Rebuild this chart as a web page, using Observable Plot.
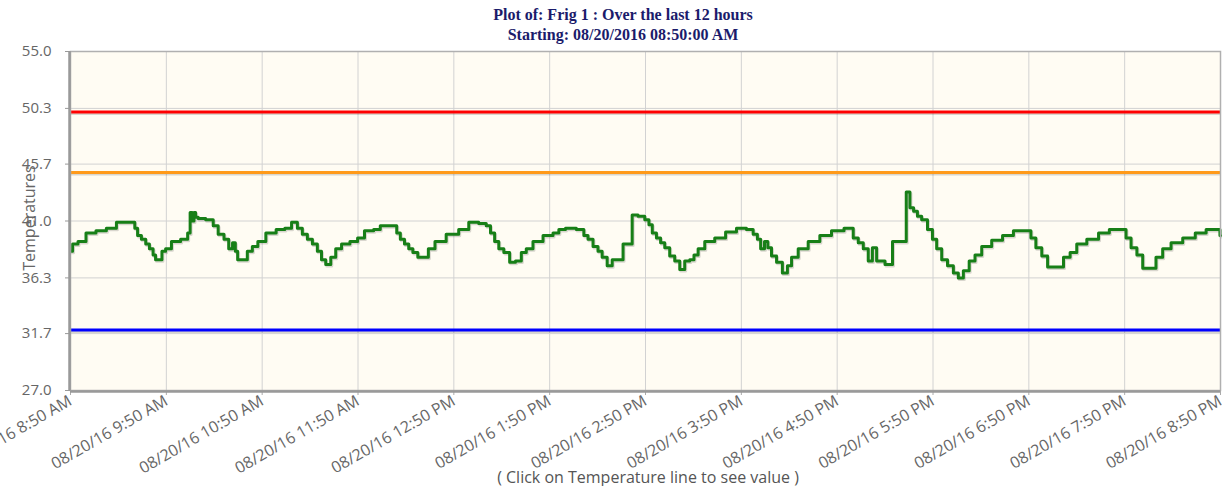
<!DOCTYPE html>
<html><head><meta charset="utf-8">
<script src="https://cdn.jsdelivr.net/npm/d3@7"></script>
<script src="https://cdn.jsdelivr.net/npm/@observablehq/plot@0.6"></script>
<style>
html,body{margin:0;padding:0;background:#fff;overflow:hidden;width:1222px;height:486px}
#wrap{position:relative;width:1222px;height:486px;overflow:hidden}
#title{position:absolute;left:0;top:5px;width:1246px;text-align:center;font:bold 16px "Liberation Serif","Times New Roman",serif;color:#1b1b6b;line-height:20px}
#ylab{position:absolute;left:29px;top:218px;transform:translate(-50%,-50%) rotate(-90deg);font:16px "Open Sans",sans-serif;color:#666;white-space:nowrap}
#cap{position:absolute;left:648px;top:466px;transform:translateX(-50%);font:16px "Open Sans",sans-serif;color:#555;white-space:nowrap;line-height:22px}
#chart{position:absolute;left:0;top:0}
</style></head>
<body><div id="wrap">
<div id="chart"></div>
<div id="title">Plot of: Frig 1 : Over the last 12 hours<br>Starting: 08/20/2016 08:50:00 AM</div>
<div id="ylab">Temperatures</div>
<div id="cap">( Click on Temperature line to see value )</div>
</div>
<script>
// minutes since 08/20/16 8:50 AM
const times = [0,2.6,6.8,12.6,19.3,25.6,31.9,39.2,41.3,42.7,46.1,48.1,50.7,52.7,53.8,56.5,58.0,61.1,65.3,72.6,74.1,75.7,76.8,77.8,78.9,81.0,88.3,90.4,94.5,97.7,100.4,102.5,103.9,105.4,109.1,112.3,115.4,119.2,125.4,132.1,136.3,140.5,143.6,146.7,149.9,153.0,156.1,158.2,161.4,164.5,167.6,171.8,178.1,
181.4,186.7,192.9,195.0,203.0,205.5,207.5,210.7,212.8,215.9,219.0,222.2,225.9,230.5,239.9,246.2,252.5,258.7,261.9,264.0,267.1,269.2,273.4,276.5,280.7,283.8,286.9,292.2,299.5,304.7,306.8,313.0,320.4,322.4,325.6,328.7,331.8,333.9,338.1,340.2,345.4,346.5,350.6,352.7,358.0,
361.1,363.2,365.3,368.4,370.5,373.6,376.7,379.9,383.0,386.1,389.3,391.4,394.5,399.7,407.0,413.3,420.6,425.8,429.0,431.1,433.1,435.9,437.3,440.5,443.6,447.8,449.9,453.0,458.2,465.5,472.8,480.1,488.5,491.6,494.8,497.9,501.0,503.1,506.3,513.6,515.7,521.9,524.6,526.5,529.2,531.3,534.5,
538.6,540.7,543.9,547.0,551.2,554.3,557.4,560.6,564.7,567.9,573.1,580.4,586.7,594.0,600.3,602.3,606.5,609.7,613.8,619.1,624.3,627.4,632.6,640.0,647.3,653.5,659.8,661.9,666.1,669.2,673.4,677.5,681.7,685.9,692.2,700.5,707.9,714.1,719.3,720];
const temps = [38.5,39.1,39.3,40.0,40.2,40.4,40.9,40.9,40.4,39.8,39.5,39.1,38.7,38.2,37.8,37.8,38.5,38.7,39.3,39.5,40.0,41.7,41.0,41.7,41.3,41.2,41.1,40.6,39.9,39.5,38.7,39.2,38.5,37.8,37.8,38.5,38.9,39.3,40.0,40.3,40.4,40.9,40.4,39.9,39.5,39.1,38.5,37.8,37.4,38.0,38.7,39.1,39.3,
39.6,40.2,40.3,40.6,40.6,40.0,39.5,39.1,38.7,38.4,38.0,38.0,38.7,39.3,39.9,40.3,40.9,40.8,40.6,40.0,39.3,38.7,38.4,37.6,37.7,38.4,38.7,39.3,39.8,40.0,40.3,40.4,40.3,39.8,39.5,38.9,38.5,38.0,37.3,37.8,37.8,39.1,39.1,41.5,41.4,
41.1,40.7,40.0,39.6,39.2,38.8,38.1,37.7,37.0,37.7,37.8,38.2,38.7,39.3,39.6,40.1,40.4,40.3,39.9,39.5,38.7,39.3,38.8,38.1,37.6,36.7,37.3,38.0,38.7,39.3,39.8,40.2,40.4,39.6,39.2,38.7,37.7,38.8,37.7,37.4,39.3,39.3,43.4,42.1,41.8,41.4,41.1,
40.3,39.5,38.7,37.8,37.3,36.7,36.3,36.9,37.7,38.2,38.9,39.4,39.8,40.2,40.2,39.6,38.8,38.1,37.2,37.2,38.0,38.4,39.1,39.5,40.0,40.3,40.3,39.6,38.8,38.2,37.1,37.1,38.0,38.7,39.2,39.6,40.0,40.3,40.3,39.8];

const thresholds = [50, 45, 32];
const thresholdColors = ["#ff0000", "#ff9a1a", "#0000ff"];

const yTicks = [27.0, 31.7, 36.3, 41.0, 45.7, 50.3, 55.0];
const xTickMinutes = [0,60,120,180,240,300,360,420,480,540,600,660,720];
const xTickLabels = ["08/20/16 8:50 AM","08/20/16 9:50 AM","08/20/16 10:50 AM","08/20/16 11:50 AM","08/20/16 12:50 PM","08/20/16 1:50 PM","08/20/16 2:50 PM","08/20/16 3:50 PM","08/20/16 4:50 PM","08/20/16 5:50 PM","08/20/16 6:50 PM","08/20/16 7:50 PM","08/20/16 8:50 PM"];

const series = times.map((t, i) => ({t, v: temps[i]}));
const lim = thresholds.map((v, i) => ({v, c: thresholdColors[i]}));

const chart = Plot.plot({
  width: 1222, height: 486,
  marginTop: 51, marginBottom: 96, marginLeft: 70, marginRight: 2,
  style: {background: "transparent", color: "#666", fontFamily: "Open Sans", fontSize: "15px", overflow: "hidden"},
  x: {domain: [0, 720], ticks: xTickMinutes},
  y: {domain: [27, 55], ticks: yTicks},
  marks: [
    Plot.frame({fill: "#fffcf3", stroke: null}),
    Plot.gridX(xTickMinutes, {stroke: "#d2d2d2", strokeOpacity: 1, strokeWidth: 1}),
    Plot.gridY(yTicks, {stroke: "#d2d2d2", strokeOpacity: 1, strokeWidth: 1}),
    Plot.ruleY(lim, {y: "v", stroke: "#000", strokeOpacity: 0.15, strokeWidth: 3, dy: 1.5, dx: 1}),
    Plot.ruleY(lim, {y: "v", stroke: "c", strokeWidth: 3}),
    Plot.line(series, {x: "t", y: "v", stroke: "#000", strokeOpacity: 0.15, strokeWidth: 3, dx: 1, dy: 1.5, curve: "step"}),
    Plot.line(series, {x: "t", y: "v", stroke: "#177f17", strokeWidth: 3, curve: "step", strokeLinejoin: "round"}),
    Plot.frame({stroke: "#b0b0b0", strokeWidth: 1.5}),
    Plot.axisY({ticks: yTicks, tickFormat: d => d.toFixed(1), tickSize: 5, tickPadding: 14, label: null, stroke: "#999", fill: "#666", fontFamily: "Open Sans", fontSize: 15}),
    Plot.axisX({ticks: xTickMinutes, tickFormat: d => xTickLabels[xTickMinutes.indexOf(d)], tickSize: 5, tickPadding: 4, tickRotate: -30, label: null, stroke: "#aaa", fill: "#666", fontFamily: "Open Sans", fontSize: 16}),
    Plot.ruleX([0], {stroke: "#999", strokeWidth: 2.5, dx: -1}),
    Plot.ruleY([27], {stroke: "#999", strokeWidth: 2.5, dy: 1})
  ]
});
document.getElementById("chart").appendChild(chart);
</script>
</body></html>
